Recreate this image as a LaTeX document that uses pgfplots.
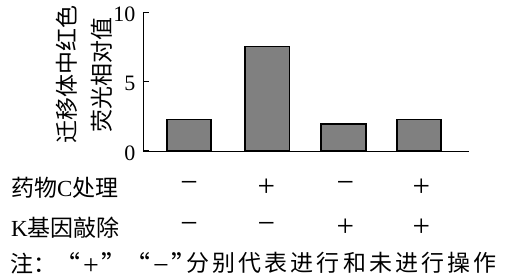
\documentclass[border=0pt]{standalone}
\usepackage{pgfplots}
\pgfplotsset{compat=1.18}
\usepackage{fontspec}
\setmainfont{Liberation Serif}
\newfontfamily\cjk{Noto Sans CJK SC}
\begin{document}
\begin{tikzpicture}
\begin{axis}[
  scale only axis, width=326pt, height=138.3pt,
  xmin=-0.6, xmax=3.65, ymin=0, ymax=10,
  axis x line*=bottom, axis y line*=left,
  every axis line/.style={line width=1pt, black},
  xtick=\empty, ytick={0,5,10},
  tick align=inside, major tick length=6pt,
  tick style={line width=1pt, black},
  /pgf/number format/assume math mode=true,
  yticklabel style={font=\fontsize{22}{24}\selectfont, anchor=east, xshift=-4pt, yshift=-2pt},
  clip=false,
  ybar, bar width=44.7pt,
]
\addplot[fill=gray, draw=black, line width=1.8pt] coordinates {(0,2.28) (1.02,7.55) (2.015,1.94) (3.0,2.28)};

% y label
\node[rotate=90, align=center, font=\fontsize{23}{35}\selectfont\cjk] at (axis cs:-1.363,5.5) {迁移体中红色\\荧光相对值};

% row labels
\node[anchor=west, inner sep=1pt, font=\fontsize{23}{28}\selectfont] at (axis cs:-2.335,-2.64) {{\cjk 药物}C{\cjk 处理}};
\node[anchor=west, inner sep=1pt, font=\fontsize{23}{28}\selectfont] at (axis cs:-2.335,-5.57) {K{\cjk 基因敲除}};

% marks row 1
\node[font=\fontsize{31}{32}\selectfont] at (axis cs:0,-2.64) {−};
\node[font=\fontsize{31}{32}\selectfont] at (axis cs:1.01,-2.64) {+};
\node[font=\fontsize{31}{32}\selectfont] at (axis cs:2.04,-2.64) {−};
\node[font=\fontsize{31}{32}\selectfont] at (axis cs:3.03,-2.64) {+};
% marks row 2
\node[font=\fontsize{31}{32}\selectfont] at (axis cs:0,-5.57) {−};
\node[font=\fontsize{31}{32}\selectfont] at (axis cs:1.01,-5.57) {−};
\node[font=\fontsize{31}{32}\selectfont] at (axis cs:2.04,-5.57) {+};
\node[font=\fontsize{31}{32}\selectfont] at (axis cs:3.03,-5.57) {+};

% note
\node[anchor=west, inner sep=0pt, font=\fontsize{23}{28}\selectfont\cjk] at (axis cs:-2.335,-8.12) {注：};
\node[inner sep=0pt, font=\fontsize{28}{30}\selectfont] at (axis cs:-1.278,-8.12) {{\cjk\fontsize{26}{28}\selectfont “}\hspace{3pt}+\hspace{3pt}{\cjk\fontsize{26}{28}\selectfont ”}};
\node[inner sep=0pt, font=\fontsize{28}{30}\selectfont] at (axis cs:-0.365,-8.12) {{\cjk\fontsize{26}{28}\selectfont “}\hspace{3pt}−\hspace{3pt}{\cjk\fontsize{26}{28}\selectfont ”}};
\node[anchor=west, inner sep=0pt, font=\fontsize{23}{28}\selectfont\cjk] at (axis cs:-0.04,-8.12) {\makebox[311pt][s]{分\hfil 别\hfil 代\hfil 表\hfil 进\hfil 行\hfil 和\hfil 未\hfil 进\hfil 行\hfil 操\hfil 作}};

\coordinate (bbsw) at (axis cs:-2.465,-9.255);
\coordinate (bbne) at (axis cs:4.278,10.92);
\end{axis}
\pgfresetboundingbox
\path[use as bounding box] (bbsw) rectangle (bbne);
\end{tikzpicture}
\end{document}
